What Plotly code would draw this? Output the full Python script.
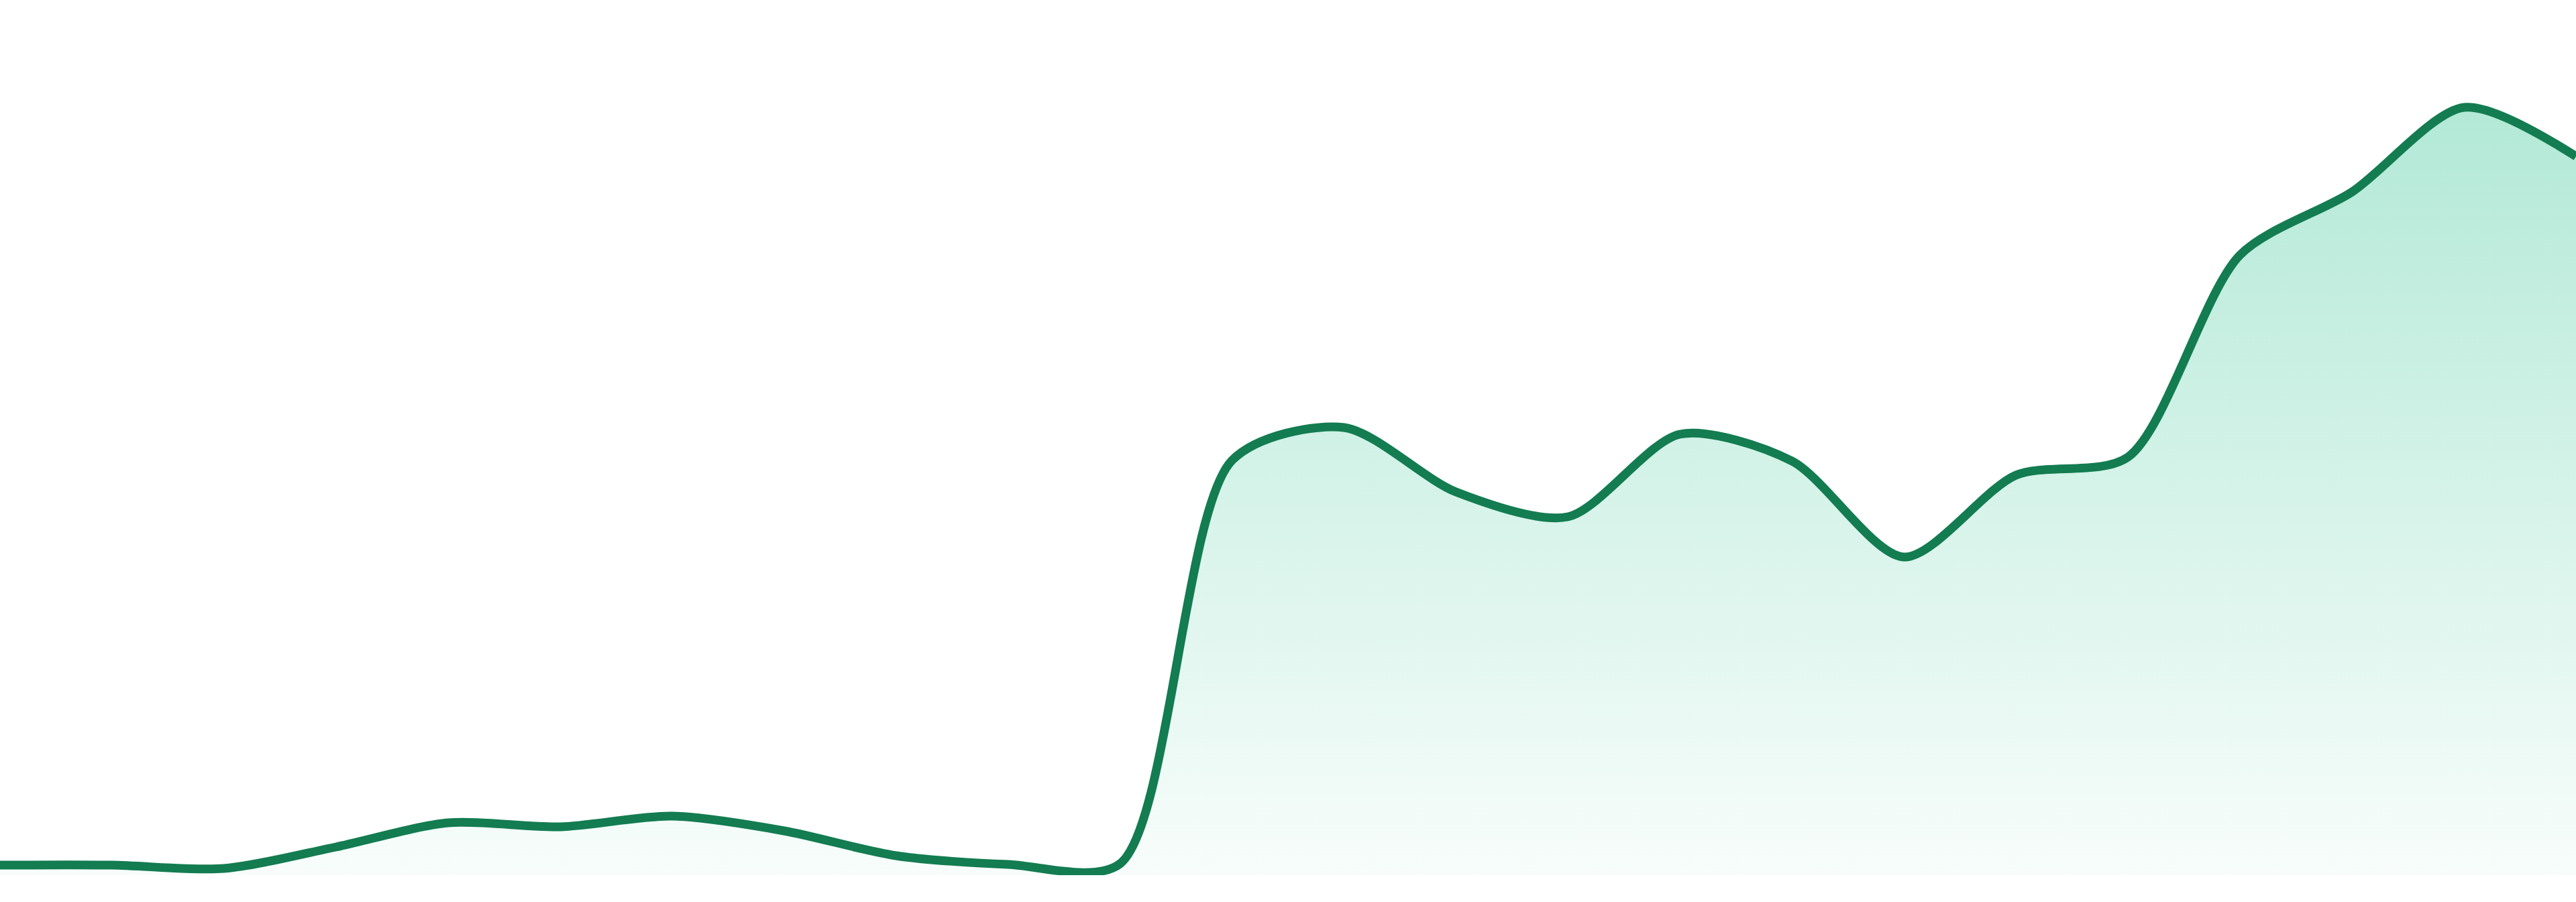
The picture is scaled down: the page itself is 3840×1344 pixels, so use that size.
import plotly.graph_objects as go

# evenly spaced samples, left edge to right edge
days = list(range(24))
values = [15, 15, 10, 42, 78, 72, 88, 66, 29, 16, 17, 618,
          667, 571, 534, 657, 617, 474, 596, 623, 924, 1018, 1144, 1071]

LINE = '#137c51'

def main():
	fig = go.Figure()
	fig.add_trace(go.Scatter(
		x=days, y=values,
		mode='lines',
		line=dict(color=LINE, width=13, shape='spline', smoothing=0.8),
		fill='tozeroy',
		fillgradient=dict(
			type='vertical',
			start=0, stop=max(values),
			colorscale=[[0, 'rgba(16,185,129,0.03)'], [1, 'rgba(16,185,129,0.32)']],
		),
		hoverinfo='skip',
		showlegend=False,
	))

	fig.update_layout(
		width=3840, height=1344,
		margin=dict(l=0, r=0, t=0, b=40),
		paper_bgcolor='white', plot_bgcolor='white',
		xaxis=dict(visible=False, range=[0, len(days) - 1]),
		yaxis=dict(visible=False, range=[0, 1304]),
	)
	# page has a default body margin, drop it so the chart sits flush
	fig.write_html('out.html', config={'displayModeBar': False, 'staticPlot': True},
		post_script="document.body.style.margin='0';document.body.style.overflow='hidden';")

if __name__ == '__main__':
	main()
